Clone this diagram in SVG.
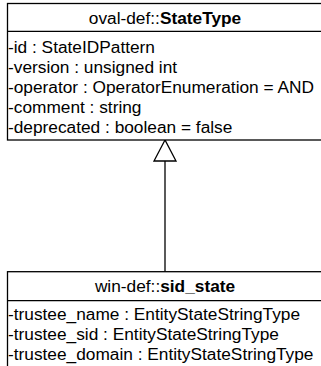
<svg xmlns="http://www.w3.org/2000/svg" width="321" height="366" viewBox="0 0 321 366">
<style>
.box{fill:#fff;stroke:#000;stroke-width:1.3}
.ln{stroke:#000;stroke-width:1.3;fill:none}
text{font-family:"Liberation Sans",Arial,sans-serif;font-size:17.3px;fill:#000}
.t{text-anchor:middle}
.b{font-weight:bold}
</style>
<g id="connectors">
<line class="ln" x1="165" y1="161" x2="165" y2="271.7"/>
<polygon class="box" points="165,140 154,161 176,161"/>
</g>
<g id="StateType">
<rect class="box" x="7.5" y="3.5" width="330" height="136.5"/>
<line class="ln" x1="7.5" y1="31.3" x2="337.5" y2="31.3"/>
<text class="t" x="165" y="23.5">oval-def::<tspan class="b">StateType</tspan></text>
<text x="8" y="52.5">-id : StateIDPattern</text>
<text x="8" y="72.5">-version : unsigned int</text>
<text x="8" y="92.5">-operator : OperatorEnumeration = AND</text>
<text x="8" y="112.5">-comment : string</text>
<text x="8" y="132.5">-deprecated : boolean = false</text>
</g>
<g id="sid_state">
<rect class="box" x="7.5" y="271.7" width="330" height="120"/>
<line class="ln" x1="7.5" y1="300.7" x2="337.5" y2="300.7"/>
<text class="t" x="165" y="292">win-def::<tspan class="b">sid_state</tspan></text>
<text x="8" y="320">-trustee_name : EntityStateStringType</text>
<text x="8" y="340">-trustee_sid : EntityStateStringType</text>
<text x="8" y="360">-trustee_domain : EntityStateStringType</text>
</g>
</svg>
